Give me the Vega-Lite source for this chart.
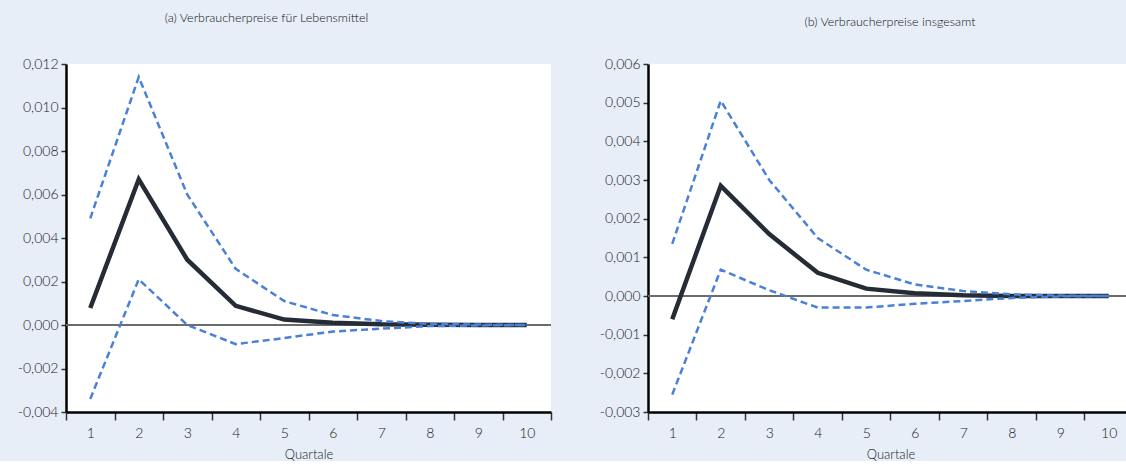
{
  "$schema": "https://vega.github.io/schema/vega-lite/v6.json",
  "padding": {"left": 17, "top": 11, "right": 0, "bottom": 0},
  "background": "#e7eef8",
  "datasets": {
    "a": [
      {"q": 1, "series": "mean", "value": 0.00078},
      {"q": 2, "series": "mean", "value": 0.0067},
      {"q": 3, "series": "mean", "value": 0.003},
      {"q": 4, "series": "mean", "value": 0.00088},
      {"q": 5, "series": "mean", "value": 0.00025},
      {"q": 6, "series": "mean", "value": 0.0001},
      {"q": 7, "series": "mean", "value": 0.00003},
      {"q": 8, "series": "mean", "value": 0.00001},
      {"q": 9, "series": "mean", "value": 0.0},
      {"q": 10, "series": "mean", "value": 0.0},
      {"q": 1, "series": "upper", "value": 0.0049},
      {"q": 2, "series": "upper", "value": 0.0114},
      {"q": 3, "series": "upper", "value": 0.006},
      {"q": 4, "series": "upper", "value": 0.00258},
      {"q": 5, "series": "upper", "value": 0.0011},
      {"q": 6, "series": "upper", "value": 0.00046},
      {"q": 7, "series": "upper", "value": 0.00018},
      {"q": 8, "series": "upper", "value": 0.00005},
      {"q": 9, "series": "upper", "value": 0.00002},
      {"q": 10, "series": "upper", "value": 0.0},
      {"q": 1, "series": "lower", "value": -0.0034},
      {"q": 2, "series": "lower", "value": 0.0021},
      {"q": 3, "series": "lower", "value": 0.0},
      {"q": 4, "series": "lower", "value": -0.00088},
      {"q": 5, "series": "lower", "value": -0.0006},
      {"q": 6, "series": "lower", "value": -0.0003},
      {"q": 7, "series": "lower", "value": -0.00017},
      {"q": 8, "series": "lower", "value": -0.00005},
      {"q": 9, "series": "lower", "value": -0.00002},
      {"q": 10, "series": "lower", "value": 0.0}
    ],
    "b": [
      {"q": 1, "series": "mean", "value": -0.0006},
      {"q": 2, "series": "mean", "value": 0.00285},
      {"q": 3, "series": "mean", "value": 0.0016},
      {"q": 4, "series": "mean", "value": 0.0006},
      {"q": 5, "series": "mean", "value": 0.00019},
      {"q": 6, "series": "mean", "value": 0.00007},
      {"q": 7, "series": "mean", "value": 0.00002},
      {"q": 8, "series": "mean", "value": 0.0},
      {"q": 9, "series": "mean", "value": 0.0},
      {"q": 10, "series": "mean", "value": 0.0},
      {"q": 1, "series": "upper", "value": 0.00135},
      {"q": 2, "series": "upper", "value": 0.00505},
      {"q": 3, "series": "upper", "value": 0.003},
      {"q": 4, "series": "upper", "value": 0.0015},
      {"q": 5, "series": "upper", "value": 0.00068},
      {"q": 6, "series": "upper", "value": 0.0003},
      {"q": 7, "series": "upper", "value": 0.00013},
      {"q": 8, "series": "upper", "value": 0.00004},
      {"q": 9, "series": "upper", "value": 0.00001},
      {"q": 10, "series": "upper", "value": 0.0},
      {"q": 1, "series": "lower", "value": -0.00255},
      {"q": 2, "series": "lower", "value": 0.00068},
      {"q": 3, "series": "lower", "value": 0.00015},
      {"q": 4, "series": "lower", "value": -0.0003},
      {"q": 5, "series": "lower", "value": -0.0003},
      {"q": 6, "series": "lower", "value": -0.0002},
      {"q": 7, "series": "lower", "value": -0.00013},
      {"q": 8, "series": "lower", "value": -0.00005},
      {"q": 9, "series": "lower", "value": -0.00001},
      {"q": 10, "series": "lower", "value": 0.0}
    ]
  },
  "bounds": "flush",
  "spacing": 97,
  "hconcat": [
    {
      "width": 485,
      "height": 348,
      "title": {"text": "(a) Verbraucherpreise für Lebensmittel", "dx": -42, "offset": 33},
      "data": {"name": "a"},
      "encoding": {
        "x": {
          "field": "q", "type": "quantitative",
          "scale": {"domain": [0.5, 10.5], "nice": false, "zero": false},
          "axis": {
            "title": "Quartale",
            "values": [0.5, 1.5, 2.5, 3.5, 4.5, 5.5, 6.5, 7.5, 8.5, 9.5, 10.5],
            "labelExpr": "datum.value > 10 ? '' : format(datum.value + 0.5, 'd')",
            "labelOffset": 24.25
          }
        },
        "y": {
          "field": "value", "type": "quantitative",
          "scale": {"domain": [-0.004, 0.012], "nice": false, "zero": false},
          "axis": {
            "title": null,
            "values": [-0.004, -0.002, 0, 0.002, 0.004, 0.006, 0.008, 0.01, 0.012],
            "labelExpr": "replace(replace(format(datum.value, '.3f'), '.', ','), '\u2212', '-')"
          }
        }
      },
      "layer": [
        {"mark": {"type": "rule", "color": "#6b6b6b", "strokeWidth": 1.5}, "encoding": {"y": {"datum": 0}, "x": null}},
        {"transform": [{"filter": "datum.series === 'mean'"}], "mark": {"type": "line", "color": "#262c35", "strokeWidth": 4.5}},
        {"transform": [{"filter": "datum.series !== 'mean'"}], "mark": {"type": "line", "color": "#4a80d6", "strokeWidth": 2.5, "strokeDash": [7, 4]}, "encoding": {"detail": {"field": "series"}}}
      ]
    },
    {
      "width": 478,
      "height": 348,
      "title": {"text": "(b) Verbraucherpreise insgesamt", "dx": 3, "offset": 29},
      "data": {"name": "b"},
      "encoding": {
        "x": {
          "field": "q", "type": "quantitative",
          "scale": {"domain": [0.5, 10.356], "nice": false, "zero": false},
          "axis": {
            "title": "Quartale",
            "titleX": 242.5,
            "values": [0.5, 1.5, 2.5, 3.5, 4.5, 5.5, 6.5, 7.5, 8.5, 9.5],
            "labelExpr": "format(datum.value + 0.5, 'd')",
            "labelOffset": 24.25
          }
        },
        "y": {
          "field": "value", "type": "quantitative",
          "scale": {"domain": [-0.003, 0.006], "nice": false, "zero": false},
          "axis": {
            "title": null,
            "values": [-0.003, -0.002, -0.001, 0, 0.001, 0.002, 0.003, 0.004, 0.005, 0.006],
            "labelExpr": "replace(replace(format(datum.value, '.3f'), '.', ','), '\u2212', '-')"
          }
        }
      },
      "layer": [
        {"mark": {"type": "rule", "color": "#6b6b6b", "strokeWidth": 1.5}, "encoding": {"y": {"datum": 0}, "x": null}},
        {"transform": [{"filter": "datum.series === 'mean'"}], "mark": {"type": "line", "color": "#262c35", "strokeWidth": 4.5}},
        {"transform": [{"filter": "datum.series !== 'mean'"}], "mark": {"type": "line", "color": "#4a80d6", "strokeWidth": 2.5, "strokeDash": [7, 4]}, "encoding": {"detail": {"field": "series"}}}
      ]
    }
  ],
  "config": {
    "font": "Lato",
    "view": {"fill": "white", "stroke": null},
    "title": {"fontSize": 12.5, "fontWeight": 300, "color": "#111", "anchor": "middle"},
    "axis": {
      "grid": false,
      "domainColor": "#000",
      "domainWidth": 2.5,
      "tickColor": "#333",
      "tickWidth": 1.5,
      "labelFont": "Lato",
      "labelFontSize": 14,
      "labelFontWeight": 300,
      "labelColor": "#1a1a1a",
      "labelFlush": false,
      "labelOverlap": false,
      "titleFont": "Lato",
      "titleFontSize": 13,
      "titleFontWeight": 300,
      "titleColor": "#1a1a1a"
    },
    "axisX": {"tickSize": 8, "labelPadding": 6, "titlePadding": 8},
    "axisY": {"tickSize": 5, "labelPadding": 3}
  }
}
